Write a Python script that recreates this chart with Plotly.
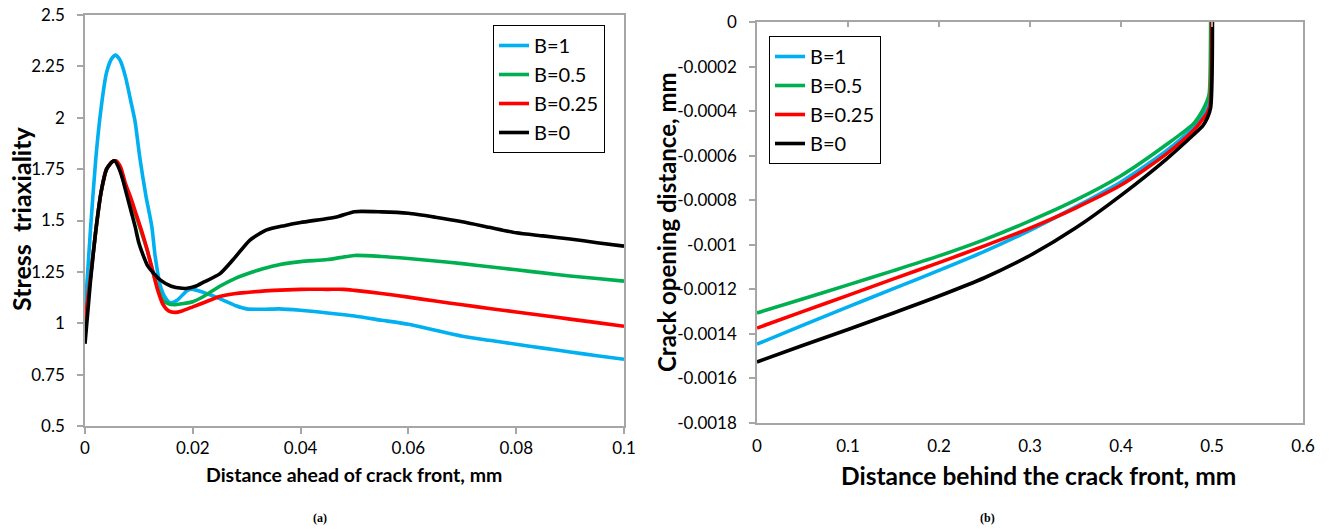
import plotly.graph_objects as go

# ---------------- Data: (a) stress triaxiality ----------------
names = ["B=1", "B=0.5", "B=0.25", "B=0"]
colors = ["#00B0F0", "#00B050", "#FF0000", "#000000"]

xa_b1 = [0, 0.001, 0.002, 0.003, 0.004, 0.005, 0.0057, 0.0065, 0.0075, 0.0085, 0.0093, 0.0102,
         0.0113, 0.0124, 0.013, 0.014, 0.0150, 0.0158, 0.0170, 0.019, 0.020, 0.022, 0.025, 0.028,
         0.030, 0.033, 0.036, 0.040, 0.045, 0.050, 0.055, 0.060, 0.065, 0.070, 0.075, 0.080,
         0.085, 0.090, 0.095, 0.100]
ya_b1 = [1.05, 1.45, 1.80, 2.05, 2.22, 2.29, 2.305, 2.28, 2.20, 2.08, 1.98, 1.80,
         1.62, 1.47, 1.33, 1.18, 1.12, 1.10, 1.11, 1.16, 1.165, 1.15, 1.12, 1.085,
         1.070, 1.068, 1.070, 1.063, 1.050, 1.035, 1.015, 0.995, 0.966, 0.937, 0.917, 0.898,
         0.879, 0.860, 0.842, 0.825]

xa_b05 = [0, 0.001, 0.002, 0.003, 0.004, 0.005, 0.0057, 0.0065, 0.0075, 0.0085, 0.0095, 0.0105,
          0.0115, 0.0125, 0.0135, 0.0145, 0.0155, 0.0165, 0.0180, 0.020, 0.022, 0.025, 0.028,
          0.030, 0.033, 0.036, 0.040, 0.045, 0.050, 0.055, 0.060, 0.065, 0.070, 0.075, 0.080,
          0.085, 0.090, 0.095, 0.100]
ya_b05 = [1.00, 1.22, 1.45, 1.64, 1.75, 1.785, 1.79, 1.75, 1.66, 1.59, 1.52, 1.44,
          1.36, 1.26, 1.17, 1.11, 1.095, 1.09, 1.095, 1.105, 1.13, 1.18, 1.22,
          1.24, 1.265, 1.285, 1.30, 1.31, 1.33, 1.325, 1.315, 1.303, 1.290, 1.275, 1.260,
          1.245, 1.230, 1.218, 1.205]

xa_b025 = [0, 0.001, 0.002, 0.003, 0.004, 0.005, 0.0058, 0.0066, 0.0075, 0.0085, 0.0095, 0.0105,
           0.0115, 0.0125, 0.0135, 0.0145, 0.0155, 0.0167, 0.0180, 0.020, 0.022, 0.025, 0.028,
           0.030, 0.035, 0.040, 0.045, 0.048, 0.050, 0.055, 0.060, 0.065, 0.070, 0.075, 0.080,
           0.085, 0.090, 0.095, 0.100]
ya_b025 = [1.00, 1.22, 1.45, 1.64, 1.75, 1.785, 1.79, 1.76, 1.68, 1.61, 1.53, 1.45,
           1.36, 1.26, 1.16, 1.09, 1.06, 1.053, 1.060, 1.08, 1.10, 1.13, 1.145,
           1.15, 1.16, 1.165, 1.165, 1.165, 1.16, 1.145, 1.127, 1.108, 1.090, 1.072, 1.055,
           1.038, 1.020, 1.003, 0.985]

xa_b0 = [0, 0.001, 0.002, 0.003, 0.004, 0.005, 0.0055, 0.0062, 0.0070, 0.0078, 0.0086, 0.0093,
         0.0100, 0.0108, 0.0116, 0.0125, 0.0140, 0.0160, 0.0180, 0.0190, 0.0205, 0.022, 0.025,
         0.0275, 0.0306, 0.0337, 0.037, 0.040, 0.045, 0.047, 0.050, 0.055, 0.060, 0.065, 0.070,
         0.075, 0.080, 0.085, 0.090, 0.095, 0.100]
ya_b0 = [0.90, 1.20, 1.45, 1.64, 1.75, 1.785, 1.79, 1.76, 1.70, 1.62, 1.54, 1.47,
         1.39, 1.33, 1.28, 1.25, 1.21, 1.18, 1.17, 1.17, 1.18, 1.20, 1.24,
         1.31, 1.405, 1.454, 1.475, 1.49, 1.51, 1.52, 1.543, 1.542, 1.535, 1.516, 1.494,
         1.467, 1.440, 1.425, 1.410, 1.392, 1.375]

# ---------------- Data: (b) crack opening distance ----------------
xb_b1 = [0, 0.05, 0.1, 0.15, 0.2, 0.25, 0.3, 0.35, 0.4, 0.45, 0.48, 0.49, 0.495, 0.498, 0.4995]
yb_b1 = [-0.001446, -0.001362, -0.001279, -0.001197, -0.001115, -0.001030, -0.000935, -0.000830,
         -0.000718, -0.000578, -0.000470, -0.000420, -0.000390, -0.000350, 0.0]
xb_b05 = [0, 0.05, 0.1, 0.15, 0.2, 0.25, 0.3, 0.35, 0.4, 0.45, 0.48, 0.49, 0.495, 0.497, 0.4985]
yb_b05 = [-0.001306, -0.001243, -0.001180, -0.001116, -0.001050, -0.000977, -0.000893, -0.000800,
          -0.000690, -0.000550, -0.000455, -0.000395, -0.000350, -0.000320, 0.0]
xb_b025 = [0, 0.05, 0.1, 0.15, 0.2, 0.25, 0.3, 0.35, 0.4, 0.45, 0.48, 0.49, 0.495, 0.498, 0.4995]
yb_b025 = [-0.001374, -0.001300, -0.001227, -0.001153, -0.001080, -0.001005, -0.000925, -0.000835,
           -0.000732, -0.000592, -0.000485, -0.000435, -0.000405, -0.000370, 0.0]
xb_b0 = [0, 0.05, 0.1, 0.15, 0.2, 0.25, 0.3, 0.35, 0.4, 0.45, 0.48, 0.49, 0.495, 0.4985, 0.5005]
yb_b0 = [-0.001526, -0.001452, -0.001380, -0.001306, -0.001230, -0.001148, -0.001048, -0.000925,
         -0.000778, -0.000615, -0.000505, -0.000465, -0.000430, -0.000385, 0.0]

# ---------------- Tick labels ----------------
ya_ticks = [0.5, 0.75, 1, 1.25, 1.5, 1.75, 2, 2.25, 2.5]
ya_text = ["0.5", "0.75", "1", "1.25", "1.5", "1.75", "2", "2.25", "2.5"]
xa_ticks = [0, 0.02, 0.04, 0.06, 0.08, 0.1]
xa_text = ["0", "0.02", "0.04", "0.06", "0.08", "0.1"]
yb_ticks = [0, -0.0002, -0.0004, -0.0006, -0.0008, -0.001, -0.0012, -0.0014, -0.0016, -0.0018]
yb_text = ["0", "-0.0002", "-0.0004", "-0.0006", "-0.0008", "-0.001", "-0.0012", "-0.0014",
           "-0.0016", "-0.0018"]
xb_ticks = [0, 0.1, 0.2, 0.3, 0.4, 0.5, 0.6]
xb_text = ["0", "0.1", "0.2", "0.3", "0.4", "0.5", "0.6"]

FONT = "Lato"
W, H = 1332, 529
GRAY = "#a6a6a6"
LW = 3.6

fig = go.Figure()

left_series = [(xa_b1, ya_b1), (xa_b05, ya_b05), (xa_b025, ya_b025), (xa_b0, ya_b0)]
for (xs, ys), n, c in zip(left_series, names, colors):
    fig.add_trace(go.Scatter(x=xs, y=ys, name=n, mode="lines",
                             line=dict(color=c, width=LW, shape="spline", smoothing=0.6),
                             xaxis="x", yaxis="y", legend="legend"))

right_series = [(xb_b1, yb_b1), (xb_b05, yb_b05), (xb_b025, yb_b025), (xb_b0, yb_b0)]
for (xs, ys), n, c in zip(right_series, names, colors):
    fig.add_trace(go.Scatter(x=xs, y=ys, name=n, mode="lines",
                             line=dict(color=c, width=LW, shape="spline", smoothing=0.7),
                             xaxis="x2", yaxis="y2", legend="legend2"))

# invisible trace to activate the top tick axis of panel (b)
fig.add_trace(go.Scatter(x=[0], y=[0], mode="markers", marker=dict(opacity=0), xaxis="x3", yaxis="y2",
                         showlegend=False, hoverinfo="skip"))


def px_x(p):
    return p / W


def px_y(p):
    return 1 - p / H


tickfont = dict(family=FONT, size=17, color="#000000")
common = dict(showgrid=False, zeroline=False, automargin=False)

fig.update_layout(
    template="none",
    width=W, height=H,
    margin=dict(l=0, r=0, t=0, b=0, pad=0, autoexpand=False),
    paper_bgcolor="white", plot_bgcolor="white",
    font=dict(family=FONT, color="#000000"),
    xaxis=dict(domain=[px_x(85), px_x(624)], range=[0, 0.1], tickvals=xa_ticks, ticktext=xa_text,
               showline=True, linecolor=GRAY, linewidth=1.5, mirror=True,
               ticks="outside", ticklen=6, tickcolor=GRAY, tickwidth=1.5, tickfont=tickfont,
               anchor="y", **common),
    yaxis=dict(domain=[px_y(426), px_y(15)], range=[0.5, 2.5], tickvals=ya_ticks, ticktext=ya_text,
               showline=True, linecolor=GRAY, linewidth=1.5, mirror=True,
               ticks="outside", ticklen=6, tickcolor=GRAY, tickwidth=1.5, tickfont=tickfont,
               ticklabelstandoff=9, anchor="x", **common),
    xaxis2=dict(domain=[px_x(757), px_x(1303)], range=[0, 0.6], tickvals=xb_ticks, ticktext=xb_text,
                showline=True, linecolor=GRAY, linewidth=1.5, mirror=True,
                ticks="outside", ticklen=7, tickcolor="rgba(0,0,0,0)", tickfont=tickfont,
                anchor="y2", **common),
    xaxis3=dict(domain=[px_x(757), px_x(1303)], range=[0, 0.6], tickvals=xb_ticks,
                overlaying="x2", side="top", anchor="y2", showticklabels=False, showline=False,
                ticks="inside", ticklen=5, tickcolor=GRAY, tickwidth=1.5, **common),
    yaxis2=dict(domain=[px_y(423), px_y(22)], range=[-0.0018, 0], tickvals=yb_ticks, ticktext=yb_text,
                showline=True, linecolor=GRAY, linewidth=1.5, mirror=True,
                ticks="outside", ticklen=6, tickcolor=GRAY, tickwidth=1.5, tickfont=tickfont,
                ticklabelstandoff=9, anchor="x2", **common),
    legend=dict(x=px_x(493), y=px_y(25), xanchor="left", yanchor="top",
                bordercolor="#000000", borderwidth=1, bgcolor="white",
                font=dict(family=FONT, size=20, color="#000000"),
                tracegroupgap=0, itemwidth=30),
    legend2=dict(x=px_x(769), y=px_y(36), xanchor="left", yanchor="top",
                 bordercolor="#000000", borderwidth=1, bgcolor="white",
                 font=dict(family=FONT, size=20, color="#000000"),
                 tracegroupgap=0, itemwidth=30),
    showlegend=True,
)

annotations = [
    dict(text="<b>Stress  triaxiality</b>", x=px_x(21), y=px_y(219), textangle=-90,
         font=dict(family=FONT, size=25)),
    dict(text="<b>Crack opening distance, mm</b>", x=px_x(666), y=px_y(222), textangle=-90,
         font=dict(family=FONT, size=24)),
    dict(text="<b>Distance ahead of crack front, mm</b>", x=px_x(354), y=px_y(474),
         font=dict(family=FONT, size=19.5)),
    dict(text="<b>Distance behind the crack front, mm</b>", x=px_x(1038), y=px_y(475),
         font=dict(family=FONT, size=24.5)),
    dict(text="<b>(a)</b>", x=px_x(320), y=px_y(518), font=dict(family="Liberation Serif", size=12)),
    dict(text="<b>(b)</b>", x=px_x(987), y=px_y(518), font=dict(family="Liberation Serif", size=12)),
]
for a in annotations:
    a.update(xref="paper", yref="paper", showarrow=False, xanchor="center", yanchor="middle")
fig.update_layout(annotations=annotations)

# remove the browser's default page margin so the figure sits at the window's top-left corner
fig.write_html("out.html", config={"displayModeBar": False},
               post_script="document.body.style.margin='0px';document.body.style.overflow='hidden';")
